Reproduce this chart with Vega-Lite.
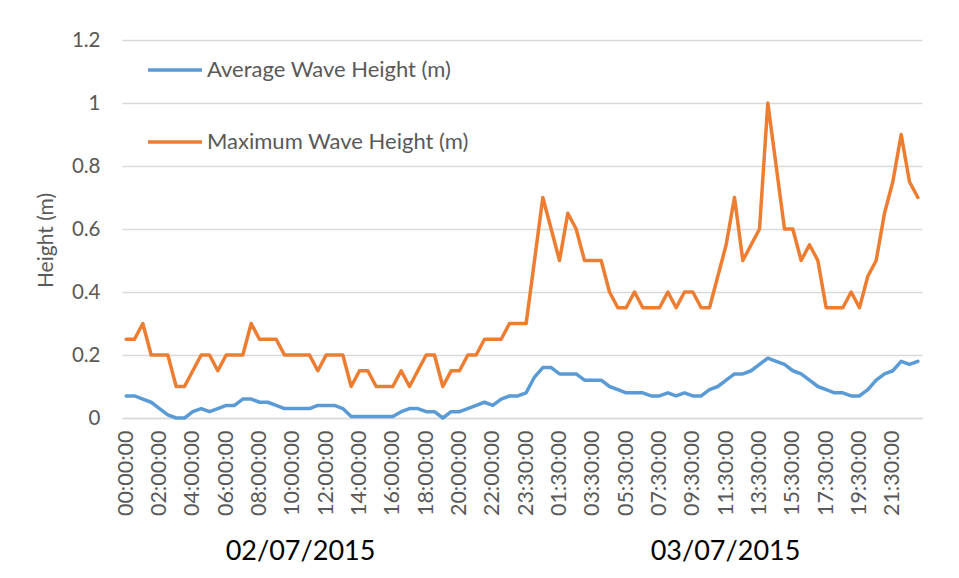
{
  "$schema": "https://vega.github.io/schema/vega-lite/v6.json",
  "width": 800,
  "height": 378,
  "autosize": {"type": "none"},
  "padding": {"left": 122, "top": 40, "right": 37, "bottom": 160},
  "background": "white",
  "config": {"font": "Lato", "view": {"stroke": null}},
  "layer": [
    {
      "data": {
        "values": [
          {"time": "02/07/2015 00:00:00", "Average Wave Height (m)": 0.07, "Maximum Wave Height (m)": 0.25},
          {"time": "02/07/2015 00:30:00", "Average Wave Height (m)": 0.07, "Maximum Wave Height (m)": 0.25},
          {"time": "02/07/2015 01:00:00", "Average Wave Height (m)": 0.06, "Maximum Wave Height (m)": 0.3},
          {"time": "02/07/2015 01:30:00", "Average Wave Height (m)": 0.05, "Maximum Wave Height (m)": 0.2},
          {"time": "02/07/2015 02:00:00", "Average Wave Height (m)": 0.03, "Maximum Wave Height (m)": 0.2},
          {"time": "02/07/2015 02:30:00", "Average Wave Height (m)": 0.01, "Maximum Wave Height (m)": 0.2},
          {"time": "02/07/2015 03:00:00", "Average Wave Height (m)": 0.0, "Maximum Wave Height (m)": 0.1},
          {"time": "02/07/2015 03:30:00", "Average Wave Height (m)": 0.0, "Maximum Wave Height (m)": 0.1},
          {"time": "02/07/2015 04:00:00", "Average Wave Height (m)": 0.02, "Maximum Wave Height (m)": 0.15},
          {"time": "02/07/2015 04:30:00", "Average Wave Height (m)": 0.03, "Maximum Wave Height (m)": 0.2},
          {"time": "02/07/2015 05:00:00", "Average Wave Height (m)": 0.02, "Maximum Wave Height (m)": 0.2},
          {"time": "02/07/2015 05:30:00", "Average Wave Height (m)": 0.03, "Maximum Wave Height (m)": 0.15},
          {"time": "02/07/2015 06:00:00", "Average Wave Height (m)": 0.04, "Maximum Wave Height (m)": 0.2},
          {"time": "02/07/2015 06:30:00", "Average Wave Height (m)": 0.04, "Maximum Wave Height (m)": 0.2},
          {"time": "02/07/2015 07:00:00", "Average Wave Height (m)": 0.06, "Maximum Wave Height (m)": 0.2},
          {"time": "02/07/2015 07:30:00", "Average Wave Height (m)": 0.06, "Maximum Wave Height (m)": 0.3},
          {"time": "02/07/2015 08:00:00", "Average Wave Height (m)": 0.05, "Maximum Wave Height (m)": 0.25},
          {"time": "02/07/2015 08:30:00", "Average Wave Height (m)": 0.05, "Maximum Wave Height (m)": 0.25},
          {"time": "02/07/2015 09:00:00", "Average Wave Height (m)": 0.04, "Maximum Wave Height (m)": 0.25},
          {"time": "02/07/2015 09:30:00", "Average Wave Height (m)": 0.03, "Maximum Wave Height (m)": 0.2},
          {"time": "02/07/2015 10:00:00", "Average Wave Height (m)": 0.03, "Maximum Wave Height (m)": 0.2},
          {"time": "02/07/2015 10:30:00", "Average Wave Height (m)": 0.03, "Maximum Wave Height (m)": 0.2},
          {"time": "02/07/2015 11:00:00", "Average Wave Height (m)": 0.03, "Maximum Wave Height (m)": 0.2},
          {"time": "02/07/2015 11:30:00", "Average Wave Height (m)": 0.04, "Maximum Wave Height (m)": 0.15},
          {"time": "02/07/2015 12:00:00", "Average Wave Height (m)": 0.04, "Maximum Wave Height (m)": 0.2},
          {"time": "02/07/2015 12:30:00", "Average Wave Height (m)": 0.04, "Maximum Wave Height (m)": 0.2},
          {"time": "02/07/2015 13:00:00", "Average Wave Height (m)": 0.03, "Maximum Wave Height (m)": 0.2},
          {"time": "02/07/2015 13:30:00", "Average Wave Height (m)": 0.005, "Maximum Wave Height (m)": 0.1},
          {"time": "02/07/2015 14:00:00", "Average Wave Height (m)": 0.005, "Maximum Wave Height (m)": 0.15},
          {"time": "02/07/2015 14:30:00", "Average Wave Height (m)": 0.005, "Maximum Wave Height (m)": 0.15},
          {"time": "02/07/2015 15:00:00", "Average Wave Height (m)": 0.005, "Maximum Wave Height (m)": 0.1},
          {"time": "02/07/2015 15:30:00", "Average Wave Height (m)": 0.005, "Maximum Wave Height (m)": 0.1},
          {"time": "02/07/2015 16:00:00", "Average Wave Height (m)": 0.005, "Maximum Wave Height (m)": 0.1},
          {"time": "02/07/2015 16:30:00", "Average Wave Height (m)": 0.02, "Maximum Wave Height (m)": 0.15},
          {"time": "02/07/2015 17:00:00", "Average Wave Height (m)": 0.03, "Maximum Wave Height (m)": 0.1},
          {"time": "02/07/2015 17:30:00", "Average Wave Height (m)": 0.03, "Maximum Wave Height (m)": 0.15},
          {"time": "02/07/2015 18:00:00", "Average Wave Height (m)": 0.02, "Maximum Wave Height (m)": 0.2},
          {"time": "02/07/2015 18:30:00", "Average Wave Height (m)": 0.02, "Maximum Wave Height (m)": 0.2},
          {"time": "02/07/2015 19:00:00", "Average Wave Height (m)": 0.0, "Maximum Wave Height (m)": 0.1},
          {"time": "02/07/2015 19:30:00", "Average Wave Height (m)": 0.02, "Maximum Wave Height (m)": 0.15},
          {"time": "02/07/2015 20:00:00", "Average Wave Height (m)": 0.02, "Maximum Wave Height (m)": 0.15},
          {"time": "02/07/2015 20:30:00", "Average Wave Height (m)": 0.03, "Maximum Wave Height (m)": 0.2},
          {"time": "02/07/2015 21:00:00", "Average Wave Height (m)": 0.04, "Maximum Wave Height (m)": 0.2},
          {"time": "02/07/2015 21:30:00", "Average Wave Height (m)": 0.05, "Maximum Wave Height (m)": 0.25},
          {"time": "02/07/2015 22:00:00", "Average Wave Height (m)": 0.04, "Maximum Wave Height (m)": 0.25},
          {"time": "02/07/2015 22:30:00", "Average Wave Height (m)": 0.06, "Maximum Wave Height (m)": 0.25},
          {"time": "02/07/2015 23:00:00", "Average Wave Height (m)": 0.07, "Maximum Wave Height (m)": 0.3},
          {"time": "02/07/2015 23:15:00", "Average Wave Height (m)": 0.07, "Maximum Wave Height (m)": 0.3},
          {"time": "02/07/2015 23:30:00", "Average Wave Height (m)": 0.08, "Maximum Wave Height (m)": 0.3},
          {"time": "03/07/2015 00:00:00", "Average Wave Height (m)": 0.13, "Maximum Wave Height (m)": 0.5},
          {"time": "03/07/2015 00:30:00", "Average Wave Height (m)": 0.16, "Maximum Wave Height (m)": 0.7},
          {"time": "03/07/2015 01:00:00", "Average Wave Height (m)": 0.16, "Maximum Wave Height (m)": 0.6},
          {"time": "03/07/2015 01:30:00", "Average Wave Height (m)": 0.14, "Maximum Wave Height (m)": 0.5},
          {"time": "03/07/2015 02:00:00", "Average Wave Height (m)": 0.14, "Maximum Wave Height (m)": 0.65},
          {"time": "03/07/2015 02:30:00", "Average Wave Height (m)": 0.14, "Maximum Wave Height (m)": 0.6},
          {"time": "03/07/2015 03:00:00", "Average Wave Height (m)": 0.12, "Maximum Wave Height (m)": 0.5},
          {"time": "03/07/2015 03:30:00", "Average Wave Height (m)": 0.12, "Maximum Wave Height (m)": 0.5},
          {"time": "03/07/2015 04:00:00", "Average Wave Height (m)": 0.12, "Maximum Wave Height (m)": 0.5},
          {"time": "03/07/2015 04:30:00", "Average Wave Height (m)": 0.1, "Maximum Wave Height (m)": 0.4},
          {"time": "03/07/2015 05:00:00", "Average Wave Height (m)": 0.09, "Maximum Wave Height (m)": 0.35},
          {"time": "03/07/2015 05:30:00", "Average Wave Height (m)": 0.08, "Maximum Wave Height (m)": 0.35},
          {"time": "03/07/2015 06:00:00", "Average Wave Height (m)": 0.08, "Maximum Wave Height (m)": 0.4},
          {"time": "03/07/2015 06:30:00", "Average Wave Height (m)": 0.08, "Maximum Wave Height (m)": 0.35},
          {"time": "03/07/2015 07:00:00", "Average Wave Height (m)": 0.07, "Maximum Wave Height (m)": 0.35},
          {"time": "03/07/2015 07:30:00", "Average Wave Height (m)": 0.07, "Maximum Wave Height (m)": 0.35},
          {"time": "03/07/2015 08:00:00", "Average Wave Height (m)": 0.08, "Maximum Wave Height (m)": 0.4},
          {"time": "03/07/2015 08:30:00", "Average Wave Height (m)": 0.07, "Maximum Wave Height (m)": 0.35},
          {"time": "03/07/2015 09:00:00", "Average Wave Height (m)": 0.08, "Maximum Wave Height (m)": 0.4},
          {"time": "03/07/2015 09:30:00", "Average Wave Height (m)": 0.07, "Maximum Wave Height (m)": 0.4},
          {"time": "03/07/2015 10:00:00", "Average Wave Height (m)": 0.07, "Maximum Wave Height (m)": 0.35},
          {"time": "03/07/2015 10:30:00", "Average Wave Height (m)": 0.09, "Maximum Wave Height (m)": 0.35},
          {"time": "03/07/2015 11:00:00", "Average Wave Height (m)": 0.1, "Maximum Wave Height (m)": 0.45},
          {"time": "03/07/2015 11:30:00", "Average Wave Height (m)": 0.12, "Maximum Wave Height (m)": 0.55},
          {"time": "03/07/2015 12:00:00", "Average Wave Height (m)": 0.14, "Maximum Wave Height (m)": 0.7},
          {"time": "03/07/2015 12:30:00", "Average Wave Height (m)": 0.14, "Maximum Wave Height (m)": 0.5},
          {"time": "03/07/2015 13:00:00", "Average Wave Height (m)": 0.15, "Maximum Wave Height (m)": 0.55},
          {"time": "03/07/2015 13:30:00", "Average Wave Height (m)": 0.17, "Maximum Wave Height (m)": 0.6},
          {"time": "03/07/2015 14:00:00", "Average Wave Height (m)": 0.19, "Maximum Wave Height (m)": 1.0},
          {"time": "03/07/2015 14:30:00", "Average Wave Height (m)": 0.18, "Maximum Wave Height (m)": 0.8},
          {"time": "03/07/2015 15:00:00", "Average Wave Height (m)": 0.17, "Maximum Wave Height (m)": 0.6},
          {"time": "03/07/2015 15:30:00", "Average Wave Height (m)": 0.15, "Maximum Wave Height (m)": 0.6},
          {"time": "03/07/2015 16:00:00", "Average Wave Height (m)": 0.14, "Maximum Wave Height (m)": 0.5},
          {"time": "03/07/2015 16:30:00", "Average Wave Height (m)": 0.12, "Maximum Wave Height (m)": 0.55},
          {"time": "03/07/2015 17:00:00", "Average Wave Height (m)": 0.1, "Maximum Wave Height (m)": 0.5},
          {"time": "03/07/2015 17:30:00", "Average Wave Height (m)": 0.09, "Maximum Wave Height (m)": 0.35},
          {"time": "03/07/2015 18:00:00", "Average Wave Height (m)": 0.08, "Maximum Wave Height (m)": 0.35},
          {"time": "03/07/2015 18:30:00", "Average Wave Height (m)": 0.08, "Maximum Wave Height (m)": 0.35},
          {"time": "03/07/2015 19:00:00", "Average Wave Height (m)": 0.07, "Maximum Wave Height (m)": 0.4},
          {"time": "03/07/2015 19:30:00", "Average Wave Height (m)": 0.07, "Maximum Wave Height (m)": 0.35},
          {"time": "03/07/2015 20:00:00", "Average Wave Height (m)": 0.09, "Maximum Wave Height (m)": 0.45},
          {"time": "03/07/2015 20:30:00", "Average Wave Height (m)": 0.12, "Maximum Wave Height (m)": 0.5},
          {"time": "03/07/2015 21:00:00", "Average Wave Height (m)": 0.14, "Maximum Wave Height (m)": 0.65},
          {"time": "03/07/2015 21:30:00", "Average Wave Height (m)": 0.15, "Maximum Wave Height (m)": 0.75},
          {"time": "03/07/2015 22:00:00", "Average Wave Height (m)": 0.18, "Maximum Wave Height (m)": 0.9},
          {"time": "03/07/2015 22:30:00", "Average Wave Height (m)": 0.17, "Maximum Wave Height (m)": 0.75},
          {"time": "03/07/2015 23:00:00", "Average Wave Height (m)": 0.18, "Maximum Wave Height (m)": 0.7}
        ]
      },
      "transform": [
        {"fold": ["Average Wave Height (m)", "Maximum Wave Height (m)"], "as": ["series", "value"]}
      ],
      "mark": {"type": "line", "strokeWidth": 3.5, "strokeJoin": "round", "strokeCap": "round"},
      "encoding": {
        "x": {
          "field": "time",
          "type": "ordinal",
          "scale": {"type": "point", "padding": 0.5},
          "axis": {
            "title": null,
            "orient": "bottom",
            "values": [
              "02/07/2015 00:00:00", "02/07/2015 02:00:00", "02/07/2015 04:00:00", "02/07/2015 06:00:00",
              "02/07/2015 08:00:00", "02/07/2015 10:00:00", "02/07/2015 12:00:00", "02/07/2015 14:00:00",
              "02/07/2015 16:00:00", "02/07/2015 18:00:00", "02/07/2015 20:00:00", "02/07/2015 22:00:00",
              "02/07/2015 23:30:00", "03/07/2015 01:30:00", "03/07/2015 03:30:00", "03/07/2015 05:30:00",
              "03/07/2015 07:30:00", "03/07/2015 09:30:00", "03/07/2015 11:30:00", "03/07/2015 13:30:00",
              "03/07/2015 15:30:00", "03/07/2015 17:30:00", "03/07/2015 19:30:00", "03/07/2015 21:30:00"
            ],
            "labelExpr": "slice(datum.value, 11)",
            "labelAngle": 270,
            "labelFontSize": 21.5,
            "labelColor": "#595959",
            "labelPadding": 12,
            "labelOverlap": false,
            "ticks": false,
            "grid": false,
            "domain": true,
            "domainColor": "#D9D9D9",
            "domainWidth": 1.3
          }
        },
        "y": {
          "field": "value",
          "type": "quantitative",
          "scale": {"domain": [0, 1.2], "nice": false},
          "axis": {
            "title": "Height (m)",
            "values": [0, 0.2, 0.4, 0.6, 0.8, 1, 1.2],
            "format": "~g",
            "labelFontSize": 20.5,
            "labelColor": "#595959",
            "labelPadding": 22,
            "ticks": false,
            "domain": false,
            "gridColor": "#D9D9D9",
            "gridWidth": 1.3,
            "titleFontSize": 21,
            "titleFontWeight": "normal",
            "titleColor": "#595959",
            "titlePadding": 15,
            "titleY": 200
          }
        },
        "color": {
          "field": "series",
          "type": "nominal",
          "scale": {
            "domain": ["Average Wave Height (m)", "Maximum Wave Height (m)"],
            "range": ["#5B9BD5", "#ED7D31"]
          },
          "legend": {
            "title": null,
            "orient": "none",
            "legendX": 24,
            "legendY": 1,
            "padding": 0,
            "symbolType": "stroke",
            "symbolSize": 2916,
            "symbolStrokeWidth": 3.5,
            "labelFontSize": 22,
            "labelColor": "#595959",
            "labelOffset": 3,
            "labelLimit": 500,
            "rowPadding": 32
          }
        }
      }
    },
    {
      "data": {"values": [{"day": "02/07/2015"}, {"day": "03/07/2015"}]},
      "mark": {"type": "point", "opacity": 0},
      "encoding": {
        "x": {
          "field": "day",
          "type": "ordinal",
          "scale": {"type": "point", "padding": 0.44118, "align": 0.4747},
          "axis": {
            "title": null,
            "orient": "bottom",
            "offset": 133,
            "labelPadding": 0,
            "labelBaseline": "middle",
            "labelAngle": 0,
            "labelFontSize": 27,
            "labelColor": "#000000",
            "ticks": false,
            "domain": false,
            "grid": false
          }
        }
      }
    }
  ],
  "resolve": {"scale": {"x": "independent"}, "axis": {"x": "independent"}}
}
